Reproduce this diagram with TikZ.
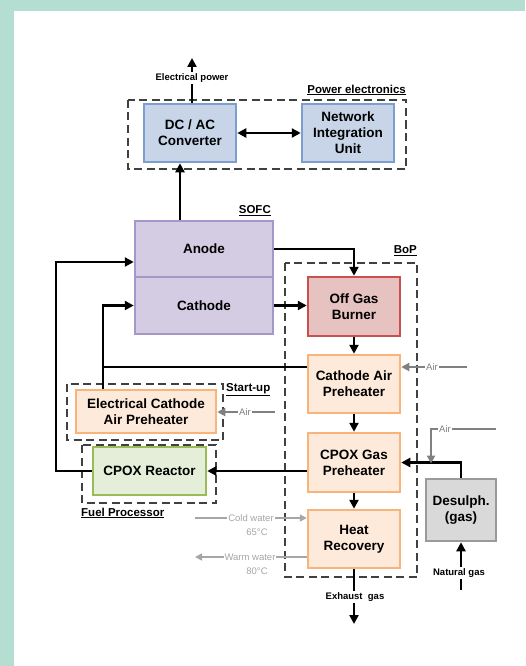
\documentclass[tikz,border=0pt]{standalone}
\usepackage{fontspec}
\setmainfont{Liberation Sans}
\usetikzlibrary{arrows.meta,calc}
\definecolor{bgteal}{HTML}{B5DED2}
\definecolor{blueF}{HTML}{C8D5E9}
\definecolor{blueD}{HTML}{7C9FCF}
\definecolor{purF}{HTML}{D3CCE3}
\definecolor{purD}{HTML}{A597C8}
\definecolor{redF}{HTML}{E6C2C1}
\definecolor{redD}{HTML}{C9504D}
\definecolor{orF}{HTML}{FDEADA}
\definecolor{orD}{HTML}{F8B47A}
\definecolor{grF}{HTML}{E4EED9}
\definecolor{grD}{HTML}{9BBB59}
\definecolor{dsF}{HTML}{D9D9D9}
\definecolor{dsD}{HTML}{9A9A9A}
\definecolor{airC}{HTML}{808080}
\definecolor{watC}{HTML}{A6A6A6}
\definecolor{dashC}{HTML}{404040}
\tikzset{
 box/.style={draw, line width=2.5pt, align=center, font=\fontsize{13.5}{16}\selectfont\bfseries, inner sep=0pt},
 bluebox/.style={box, fill=blueF, draw=blueD},
 purbox/.style={box, fill=purF, draw=purD},
 redbox/.style={box, fill=redF, draw=redD},
 orbox/.style={box, fill=orF, draw=orD},
 grbox/.style={box, fill=grF, draw=grD},
 dsbox/.style={box, fill=dsF, draw=dsD},
 conn/.style={line width=2.4pt, black},
 arr/.style={conn, -{Triangle[length=9pt,width=9pt]}},
 dbl/.style={conn, {Triangle[length=9pt,width=9pt]}-{Triangle[length=9pt,width=9pt]}},
 airarr/.style={line width=2.2pt, airC, -{Triangle[length=8pt,width=8pt]}},
 watarr/.style={line width=1.6pt, watC, -{Triangle[length=7pt,width=7pt]}},
 grp/.style={draw=dashC, line width=1.3pt, dash pattern=on 8pt off 4.5pt},
 grplabel/.style={font=\fontsize{11.5}{13}\selectfont\bfseries, inner sep=0pt},
 flowlabel/.style={font=\fontsize{9.5}{11}\selectfont\bfseries, fill=white, inner sep=1.5pt},
 airlabel/.style={font=\fontsize{9.5}{11}\selectfont, text=airC, fill=white, inner sep=1pt},
 watlabel/.style={font=\fontsize{9.5}{11}\selectfont, text=watC, fill=white, inner sep=1pt},
}
\begin{document}
\begin{tikzpicture}[x=1pt,y=-1pt]
\useasboundingbox (0,0) rectangle (525,666);
\fill[bgteal] (0,0) rectangle (525,666);
\fill[white] (14,11) rectangle (525,666);

% group frames
\draw[grp] (128,100) rectangle (406,169);
\draw[grp] (285,263) rectangle (417,577);
\draw[grp] (67,384) rectangle (223,440);
\draw[grp] (82,445) rectangle (216,503);

% group labels
\node[grplabel, anchor=east] (lpe) at (406,90) {\underline{Power electronics}};
\node[grplabel, anchor=east] (lsofc) at (271,211) {\underline{SOFC}};
\node[grplabel, anchor=east] (lbop) at (417,251) {\underline{BoP}};
\node[grplabel, anchor=west] (lsu) at (226,390) {\underline{Start-up}};
\node[grplabel, anchor=west] (lfp) at (81,513) {\underline{Fuel Processor}};

% boxes
\node[bluebox, minimum width=92pt, minimum height=58pt] (dcac) at (190,133) {DC / AC\\Converter};
\node[bluebox, minimum width=92pt, minimum height=58pt] (niu) at (348,133) {Network\\Integration\\Unit};
\node[purbox, minimum width=138pt, minimum height=56pt] (anode) at (204,249) {Anode};
\node[purbox, minimum width=138pt, minimum height=57pt] (cathode) at (204,305.5) {Cathode};
\node[redbox, minimum width=92pt, minimum height=59pt] (burner) at (354,306.5) {Off Gas\\Burner};
\node[orbox, minimum width=92pt, minimum height=58pt] (cap) at (354,384) {Cathode Air\\Preheater};
\node[orbox, minimum width=92pt, minimum height=59pt] (cgp) at (354,462.5) {CPOX Gas\\Preheater};
\node[orbox, minimum width=92pt, minimum height=58pt] (hr) at (354,539) {Heat\\Recovery};
\node[dsbox, minimum width=70pt, minimum height=62pt] (desulph) at (461,510) {Desulph.\\(gas)};
\node[orbox, minimum width=140pt, minimum height=43pt] (ecap) at (146,411.5) {Electrical Cathode\\Air Preheater};
\node[grbox, minimum width=113pt, minimum height=48pt] (cpox) at (149.5,471) {CPOX Reactor};

% helper coordinates
\coordinate (ep) at (192,58);
\coordinate (exh) at (354,624);
\coordinate (ng) at (461,590);
\coordinate (j1) at (103,367);
\coordinate (j2) at (56,471);
\coordinate (airA) at (467,367);
\coordinate (airB) at (275,412);
\coordinate (airC1) at (496,429);
\coordinate (airC2) at (431,429);
\coordinate (cw) at (195,518);
\coordinate (ww) at (195,557);

% black connectors
\draw[arr] ([xshift=2pt]dcac.north) -- (ep);
\draw[dbl] (dcac.east) -- (niu.west);
\draw[arr] ([xshift=-24pt]anode.north) -- ([xshift=-24pt]anode.north |- dcac.south);
\draw[arr] (anode.east) -| (burner.north);
\draw[arr] (cathode.east) -- (burner.west |- cathode.east);
\draw[arr] (burner.south) -- (cap.north);
\draw[arr] (cap.south) -- (cgp.north);
\draw[arr] (cgp.south) -- (hr.north);
\draw[arr] (hr.south) -- (exh);
\draw[arr] ([yshift=17pt]cap.west) -- (j1) |- (cathode.west);
\draw[conn] (ecap.north -| j1) -- (j1);
\draw[arr] (cgp.west |- cpox.east) -- (cpox.east);
\draw[arr] (cpox.west) -- (j2) |- ([yshift=-13pt]anode.west);
\draw[arr] (desulph.north) |- (cgp.east);
\draw[arr] (ng) -- (desulph.south);

% gray connectors
\draw[airarr] (airA) -- (cap.east |- airA);
\draw[airarr] (airB) -- (ecap.east |- airB);
\draw[airarr] (airC1) -- (airC2) -- ([yshift=-1pt]airC2 |- cgp.east);
\draw[watarr] (cw) -- (hr.west |- cw);
\draw[watarr] (hr.west |- ww) -- (ww);

% flow labels
\node[flowlabel] (tep) at (192,78) {Electrical power};
\node[flowlabel] (texh) at (355,597) {Exhaust~~gas};
\node[flowlabel] (tng) at (459,573) {Natural gas};
\node[airlabel] (tairA) at (432,367) {Air};
\node[airlabel] (tairB) at (245,412) {Air};
\node[airlabel] (tairC) at (445,429) {Air};
\node[watlabel] (tcw) at (251,518) {Cold water};
\node[watlabel, fill=none] (tcwt) at (257,532) {65°C};
\node[watlabel] (tww) at (250,557) {Warm water};
\node[watlabel, fill=none] (twwt) at (257,571) {80°C};
\end{tikzpicture}
\end{document}
